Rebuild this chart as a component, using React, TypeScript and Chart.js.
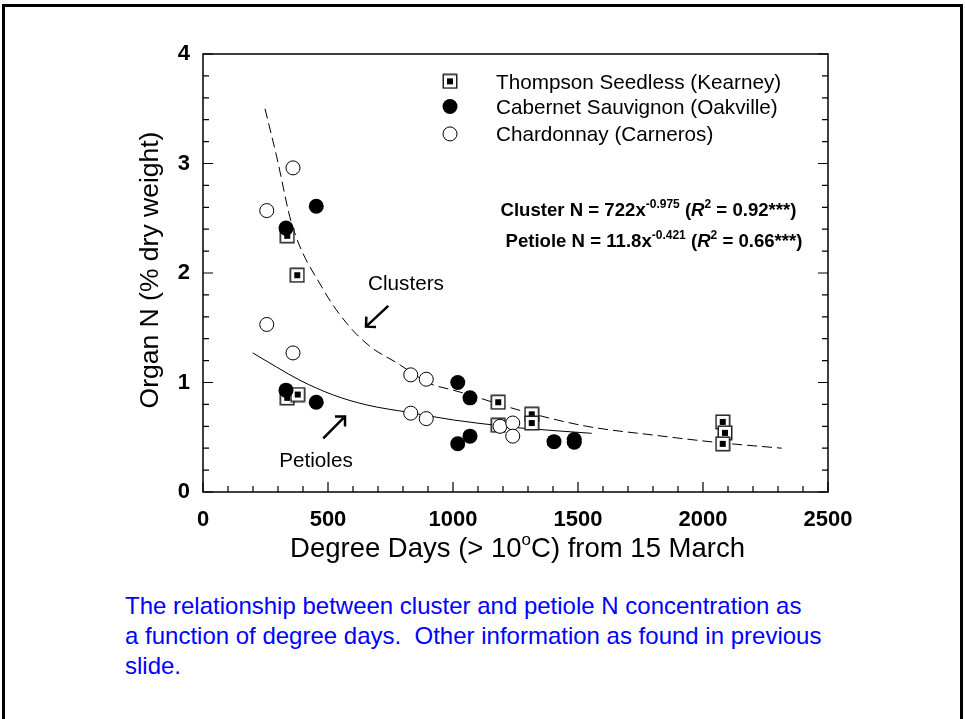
import React, { useEffect, useRef } from "react";
import { Chart, registerables } from "chart.js";

Chart.register(...registerables);

const FONT = '"Liberation Sans", Arial, Helvetica, sans-serif';

// ---- data ----
const xTicks = [0, 500, 1000, 1500, 2000, 2500];
const yTicks = [0, 1, 2, 3, 4];

const thompsonX = [337, 377, 337, 379, 1181, 1181, 1315, 1315, 2079, 2088, 2079];
const thompsonY = [2.34, 1.98, 0.86, 0.89, 0.82, 0.61, 0.71, 0.63, 0.64, 0.54, 0.44];

const cabernetX = [332, 453, 332, 453, 1019, 1068, 1019, 1068, 1404, 1485, 1485];
const cabernetY = [2.41, 2.61, 0.93, 0.82, 1.0, 0.86, 0.44, 0.51, 0.46, 0.455, 0.48];

const chardX = [255, 360, 255, 360, 831, 893, 831, 893, 1188, 1239, 1239];
const chardY = [2.57, 2.96, 1.53, 1.27, 1.07, 1.03, 0.72, 0.67, 0.6, 0.63, 0.51];

const clusterFitX = [248, 295, 355, 481, 575, 668, 775, 908, 1001, 1068, 1201, 1308, 1535, 1801, 2068, 2315];
const clusterFitY = [3.5, 3.06, 2.45, 1.85, 1.54, 1.33, 1.18, 0.99, 0.93, 0.886, 0.79, 0.72, 0.6, 0.52, 0.45, 0.4];

const petioleFitX = [199, 295, 388, 521, 655, 831, 1001, 1188, 1268, 1555];
const petioleFitY = [1.27, 1.14, 1.02, 0.886, 0.795, 0.724, 0.658, 0.605, 0.585, 0.536];

const seriesNames = [
  "Thompson Seedless (Kearney)",
  "Cabernet Sauvignon (Oakville)",
  "Chardonnay (Carneros)",
];

const xTitle = ["Degree Days (> 10", "o", "C) from 15 March"];
const yTitle = "Organ N (% dry weight)";

const captionLines = [
  "The relationship between cluster and petiole N concentration as",
  "a function of degree days.  Other information as found in previous",
  "slide.",
];

const pts = (xs: number[], ys: number[]) => xs.map((x, i) => ({ x, y: ys[i] }));

function makeSquareMarker(): HTMLCanvasElement {
  const c = document.createElement("canvas");
  c.width = 16;
  c.height = 16;
  const g = c.getContext("2d")!;
  g.fillStyle = "#fff";
  g.fillRect(1, 1, 14, 14);
  g.strokeStyle = "#222";
  g.lineWidth = 1.5;
  g.strokeRect(1.25, 1.25, 13.5, 13.5);
  g.fillStyle = "#000";
  g.fillRect(5, 5, 6, 6);
  return c;
}

type Seg = { t: string; sup?: boolean; italic?: boolean };

function drawRich(
  ctx: CanvasRenderingContext2D,
  segs: Seg[],
  cx: number,
  cy: number,
  size: number,
  weight: string,
  align: "center" | "left",
  supScale = 0.62
) {
  const fontFor = (s: Seg) =>
    `${s.italic ? "italic " : ""}${weight} ${s.sup ? Math.round(size * supScale) : size}px ${FONT}`;
  let total = 0;
  for (const s of segs) {
    ctx.font = fontFor(s);
    total += ctx.measureText(s.t).width;
  }
  let x = align === "center" ? cx - total / 2 : cx;
  ctx.textAlign = "left";
  ctx.textBaseline = "alphabetic";
  const base = cy + size * 0.36;
  for (const s of segs) {
    ctx.font = fontFor(s);
    ctx.fillText(s.t, x, s.sup ? base - size * 0.42 : base);
    x += ctx.measureText(s.t).width;
  }
}

function drawArrow(ctx: CanvasRenderingContext2D, x1: number, y1: number, x2: number, y2: number) {
  const ang = Math.atan2(y2 - y1, x2 - x1);
  const hl = 10;
  ctx.save();
  ctx.strokeStyle = "#000";
  ctx.lineWidth = 2.5;
  ctx.lineCap = "butt";
  ctx.beginPath();
  ctx.moveTo(x1, y1);
  ctx.lineTo(x2, y2);
  ctx.moveTo(x2 - hl * Math.cos(ang - Math.PI / 4), y2 - hl * Math.sin(ang - Math.PI / 4));
  ctx.lineTo(x2, y2);
  ctx.lineTo(x2 - hl * Math.cos(ang + Math.PI / 4), y2 - hl * Math.sin(ang + Math.PI / 4));
  ctx.stroke();
  ctx.restore();
}

export default function App() {
  const ref = useRef<HTMLCanvasElement | null>(null);

  useEffect(() => {
    if (!ref.current) return;
    const square = makeSquareMarker();

    const decor = {
      id: "decor",
      afterDraw(chart: any) {
        const ctx: CanvasRenderingContext2D = chart.ctx;
        const xs = chart.scales.x;
        const ys = chart.scales.y;
        const { left, right, top, bottom } = chart.chartArea;
        const X = (v: number) => xs.getPixelForValue(v);
        const Y = (v: number) => ys.getPixelForValue(v);
        ctx.save();
        // frame
        ctx.strokeStyle = "#000";
        ctx.lineWidth = 1.5;
        ctx.strokeRect(left, top, right - left, bottom - top);
        // ticks (inward)
        ctx.lineWidth = 1.2;
        ctx.beginPath();
        for (let v = 0; v <= 2500; v += 100) {
          const p = X(v);
          const len = v % 500 === 0 ? 10 : 6;
          ctx.moveTo(p, bottom);
          ctx.lineTo(p, bottom - len);
        }
        for (let i = 0; i <= 20; i++) {
          const v = i * 0.2;
          const p = Y(v);
          const len = i % 5 === 0 ? 10 : 6;
          ctx.moveTo(left, p);
          ctx.lineTo(left + len, p);
          ctx.moveTo(right, p);
          ctx.lineTo(right - len, p);
        }
        ctx.stroke();

        ctx.fillStyle = "#000";
        // axis titles
        drawRich(
          ctx,
          [{ t: xTitle[0] }, { t: xTitle[1], sup: true }, { t: xTitle[2] }],
          (left + right) / 2 + 2,
          bottom + 55,
          27.5,
          "normal",
          "center"
        );
        ctx.save();
        ctx.translate(left - 55, (top + bottom) / 2 - 3);
        ctx.rotate(-Math.PI / 2);
        drawRich(ctx, [{ t: yTitle }], 0, 0, 26.5, "normal", "center");
        ctx.restore();

        // legend
        const legY = [3.75, 3.52, 3.27];
        const mx = X(988);
        const tx = X(1172);
        ctx.drawImage(square, mx - 8, Y(legY[0]) - 8);
        ctx.beginPath();
        ctx.arc(mx, Y(legY[1]), 7.5, 0, Math.PI * 2);
        ctx.fill();
        ctx.beginPath();
        ctx.arc(mx, Y(legY[2]), 7, 0, Math.PI * 2);
        ctx.fillStyle = "#fff";
        ctx.fill();
        ctx.lineWidth = 1;
        ctx.strokeStyle = "#000";
        ctx.stroke();
        ctx.fillStyle = "#000";
        seriesNames.forEach((n, i) => drawRich(ctx, [{ t: n }], tx, Y(legY[i]), 20.7, "normal", "left"));

        // equations
        drawRich(
          ctx,
          [
            { t: "Cluster N = 722x" },
            { t: "-0.975", sup: true },
            { t: " (" },
            { t: "R", italic: true },
            { t: "2", sup: true },
            { t: " = 0.92***)" },
          ],
          X(1782),
          Y(2.58),
          18.6,
          "bold",
          "center",
          0.66
        );
        drawRich(
          ctx,
          [
            { t: "Petiole N = 11.8x" },
            { t: "-0.421", sup: true },
            { t: " (" },
            { t: "R", italic: true },
            { t: "2", sup: true },
            { t: " = 0.66***)" },
          ],
          X(1804),
          Y(2.3),
          18.6,
          "bold",
          "center",
          0.66
        );

        // annotations
        drawRich(ctx, [{ t: "Clusters" }], X(812), Y(1.91), 20.7, "normal", "center");
        drawArrow(ctx, X(741), Y(1.7), X(652), Y(1.51));
        drawRich(ctx, [{ t: "Petioles" }], X(452), Y(0.3), 20.7, "normal", "center");
        drawArrow(ctx, X(481), Y(0.49), X(568), Y(0.69));
        ctx.restore();
      },
    };

    const chart = new Chart(ref.current, {
      type: "scatter",
      data: {
        datasets: [
          {
            label: seriesNames[0],
            data: pts(thompsonX, thompsonY),
            pointStyle: square as any,
            pointRadius: 8,
            order: 2,
          },
          {
            label: seriesNames[1],
            data: pts(cabernetX, cabernetY),
            pointStyle: "circle",
            pointRadius: 7.5,
            backgroundColor: "#000",
            borderColor: "#000",
            borderWidth: 0,
            order: 0,
          },
          {
            label: seriesNames[2],
            data: pts(chardX, chardY),
            pointStyle: "circle",
            pointRadius: 7,
            backgroundColor: "#fff",
            borderColor: "#000",
            borderWidth: 1,
            order: 1,
          },
          {
            label: "Cluster fit",
            data: pts(clusterFitX, clusterFitY),
            showLine: true,
            pointRadius: 0,
            borderColor: "#000",
            borderWidth: 1,
            borderDash: [10, 5],
            cubicInterpolationMode: "monotone",
            order: 10,
          } as any,
          {
            label: "Petiole fit",
            data: pts(petioleFitX, petioleFitY),
            showLine: true,
            pointRadius: 0,
            borderColor: "#000",
            borderWidth: 1,
            cubicInterpolationMode: "monotone",
            order: 11,
          } as any,
        ],
      },
      options: {
        animation: false,
        responsive: false,
        layout: { padding: { left: 0, top: 54, right: 137, bottom: 0 } },
        plugins: { legend: { display: false }, tooltip: { enabled: false } },
        scales: {
          x: {
            type: "linear",
            min: 0,
            max: 2500,
            afterBuildTicks: (s: any) => {
              s.ticks = xTicks.map((v) => ({ value: v }));
            },
            ticks: {
              font: { family: FONT, size: 22, weight: "bold" },
              color: "#000",
              padding: 15,
              maxRotation: 0,
              autoSkip: false,
              callback: (v: any) => String(v),
            },
            grid: { display: false, drawTicks: false },
            border: { display: false },
            afterFit: (s: any) => {
              s.height = 88;
            },
          },
          y: {
            type: "linear",
            min: 0,
            max: 4,
            afterBuildTicks: (s: any) => {
              s.ticks = yTicks.map((v) => ({ value: v }));
            },
            ticks: {
              font: { family: FONT, size: 22, weight: "bold" },
              color: "#000",
              padding: 13,
              autoSkip: false,
              callback: (v: any) => String(v),
            },
            grid: { display: false, drawTicks: false },
            border: { display: false },
            afterFit: (s: any) => {
              s.width = 203;
            },
          },
        },
      } as any,
      plugins: [decor],
    });
    return () => chart.destroy();
  }, []);

  return (
    <div
      style={{
        position: "fixed",
        left: 0,
        top: 0,
        width: 965,
        height: 719,
        background: "#fff",
        overflow: "hidden",
      }}
    >
      <div
        style={{
          position: "absolute",
          left: 2,
          top: 4,
          width: 961,
          height: 760,
          boxSizing: "border-box",
          border: "3px solid #000",
        }}
      />
      <canvas
        ref={ref}
        width={965}
        height={580}
        style={{ position: "absolute", left: 0, top: 0, display: "block" }}
      />
      <div
        style={{
          position: "absolute",
          left: 125,
          top: 591,
          fontFamily: FONT,
          fontSize: 24,
          lineHeight: "30px",
          color: "#0000ff",
          whiteSpace: "pre",
        }}
      >
        {captionLines.map((l, i) => (
          <div key={i}>{l}</div>
        ))}
      </div>
    </div>
  );
}
